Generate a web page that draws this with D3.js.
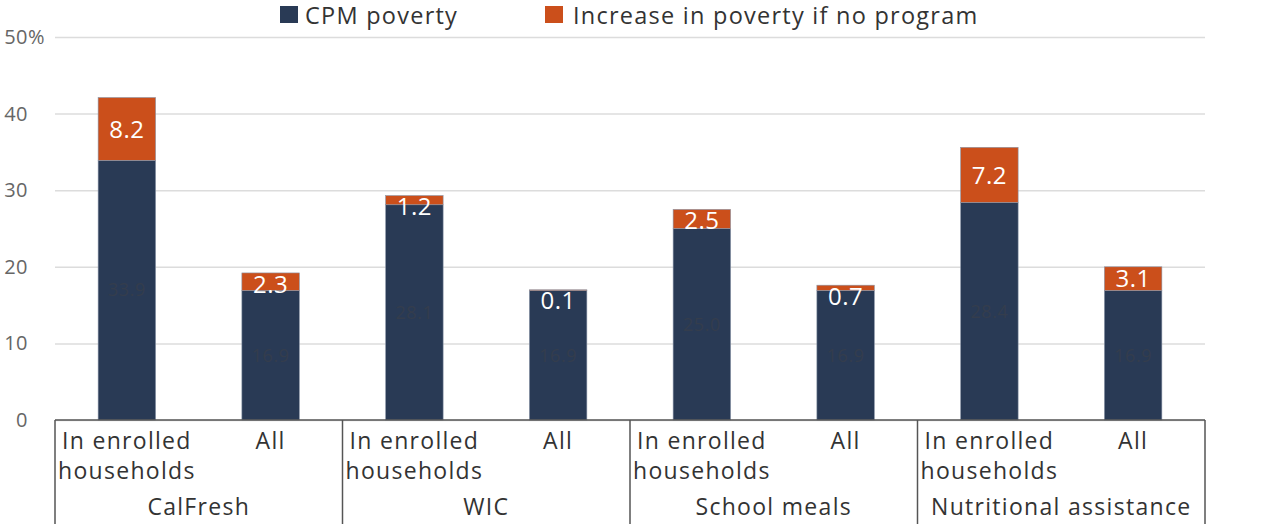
<!DOCTYPE html>
<html>
<head>
<meta charset="utf-8">
<script src="https://cdn.jsdelivr.net/npm/d3@7"></script>
<style>
  body { margin: 0; background: #fff; }
  svg { font-family: "Open Sans", sans-serif; }
</style>
</head>
<body>
<svg id="svg" width="1280" height="524"></svg>
<script>
var groups = ["CalFresh", "WIC", "School meals", "Nutritional assistance"];
var subLabels = ["In enrolled households", "All"];
var cpmPoverty = [33.9, 16.9, 28.1, 16.9, 25.0, 16.9, 28.4, 16.9];
var increase = [8.2, 2.3, 1.2, 0.1, 2.5, 0.7, 7.2, 3.1];
var yTicks = [0, 10, 20, 30, 40, 50];
var seriesNames = ["CPM poverty", "Increase in poverty if no program"];
var colors = ["#293a55", "#cb4f1b"];

var svg = d3.select("#svg");
var padding = { top: 37, right: 75, bottom: 104, left: 55 };
var W = 1280 - padding.left - padding.right;
var H = 524 - padding.top - padding.bottom;

var rows = cpmPoverty.map(function (d, i) {
  return { id: i, group: groups[Math.floor(i / 2)], sub: subLabels[i % 2], cpm: d, inc: increase[i] };
});

var xScale = d3.scaleBand().domain(rows.map(d => d.id)).range([0, W]).paddingInner(0.6).paddingOuter(0.3);
var yScale = d3.scaleLinear().domain([0, 50]).range([H, 0]);

var g = svg.append("g").attr("transform", "translate(" + padding.left + "," + padding.top + ")");

// grid + y axis
var yAxis = g.append("g")
  .call(d3.axisLeft(yScale).tickValues(yTicks).tickSize(-W).tickFormat(d => d));
yAxis.select(".domain").remove();
yAxis.selectAll(".tick line").attr("stroke", "#dcdcdc").attr("stroke-width", 1.5);
yAxis.selectAll(".tick text")
  .attr("x", -27).attr("fill", "#666").style("font-size", "20px")
  .style("letter-spacing", "0.5px")
  .style("font-family", "'Open Sans', sans-serif");
// percent sign hangs to the right of the top tick
yAxis.selectAll(".tick").filter(d => d === 50).append("text")
  .attr("x", -27).attr("dy", "0.32em")
  .attr("text-anchor", "start").attr("fill", "#666")
  .style("font-size", "20px").style("font-family", "'Open Sans', sans-serif")
  .text("%");

// stacked bars
var stack = d3.stack().keys(["cpm", "inc"]);
var layers = stack(rows);

g.selectAll(".layer")
  .data(layers)
  .enter().append("g")
  .attr("fill", (d, i) => colors[i])
  .selectAll("rect")
  .data(d => d)
  .enter().append("rect")
  .attr("x", d => xScale(d.data.id))
  .attr("y", d => yScale(d[1]))
  .attr("width", xScale.bandwidth())
  .attr("height", d => yScale(d[0]) - yScale(d[1]))
  .attr("stroke", "#8a96a8").attr("stroke-width", 0.6);

// labels in dark segment
g.selectAll(".lblCpm")
  .data(rows).enter().append("text")
  .attr("x", d => xScale(d.id) + xScale.bandwidth() / 2)
  .attr("y", d => yScale(d.cpm / 2))
  .attr("dy", "0.35em")
  .attr("text-anchor", "middle")
  .attr("fill", "#343d4d")
  .style("font-size", "18px")
  .style("letter-spacing", "0.5px")
  .text(d => d.cpm.toFixed(1));

// labels in orange segment
g.selectAll(".lblInc")
  .data(rows).enter().append("text")
  .attr("x", d => xScale(d.id) + xScale.bandwidth() / 2)
  .attr("y", d => Math.max(yScale(d.cpm + d.inc / 2), yScale(d.cpm + d.inc) + 11))
  .attr("dy", "0.36em")
  .attr("text-anchor", "middle")
  .attr("fill", "#fff")
  .style("font-size", "24px")
  .style("letter-spacing", "0.5px")
  .text(d => d.inc.toFixed(1));

// baseline
g.append("line").attr("x1", 0).attr("x2", W).attr("y1", H).attr("y2", H)
  .attr("stroke", "#555").attr("stroke-width", 1.5);

// group separators
var groupW = W / groups.length;
d3.range(groups.length + 1).forEach(function (i) {
  g.append("line")
    .attr("x1", i * groupW).attr("x2", i * groupW)
    .attr("y1", H).attr("y2", H + padding.bottom)
    .attr("stroke", "#555").attr("stroke-width", 1.5);
});

// category labels
var catText = g.selectAll(".cat")
  .data(rows).enter().append("text")
  .attr("text-anchor", "middle")
  .attr("fill", "#333")
  .style("font-size", "23px")
  .style("letter-spacing", "1.3px");
catText.each(function (d) {
  var lines = d.sub === "All" ? ["All"] : ["In enrolled", "households"];
  var cx = xScale(d.id) + xScale.bandwidth() / 2;
  d3.select(this).selectAll("tspan").data(lines).enter().append("tspan")
    .attr("x", cx)
    .attr("y", (l, j) => H + 29 + j * 30)
    .text(l => l);
});

g.selectAll(".grp")
  .data(groups).enter().append("text")
  .attr("x", (d, i) => i * groupW + groupW / 2)
  .attr("y", H + 95)
  .attr("text-anchor", "middle")
  .attr("fill", "#333")
  .style("font-size", "23px")
  .style("letter-spacing", "1.3px")
  .text(d => d);

// legend
var legend = svg.append("g").attr("transform", "translate(280,0)");
var legX = [0, 265];
seriesNames.forEach(function (name, i) {
  legend.append("rect").attr("x", legX[i]).attr("y", 6).attr("width", 18).attr("height", 17).attr("fill", colors[i]);
  legend.append("text").attr("x", legX[i] + (i ? 28 : 25)).attr("y", 24)
    .attr("fill", "#333").style("font-size", "23.5px")
    .style("letter-spacing", "1.25px").text(name);
});
</script>
</body>
</html>
